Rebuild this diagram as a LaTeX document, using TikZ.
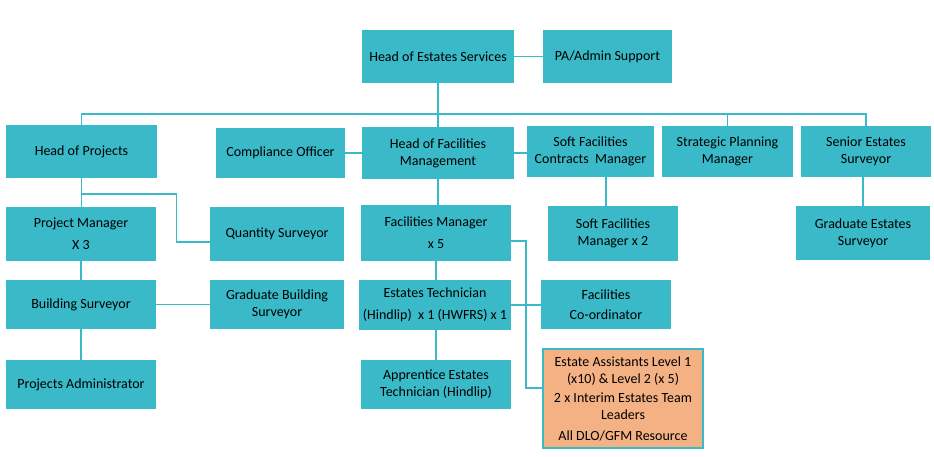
\documentclass[tikz,border=0pt]{standalone}
\usepackage{fontspec}
\setmainfont{Carlito}
\usetikzlibrary{calc}
\definecolor{estteal}{HTML}{3ABAC8}
\definecolor{estorange}{HTML}{F4B183}

\begin{document}
\begin{tikzpicture}[x=1pt,y=-1pt,
    role/.style 2 args={fill=estteal, inner sep=0pt, align=center,
      minimum width=#1, minimum height=#2, text=black,
      font=\fontsize{14}{17}\selectfont},
    link/.style={draw=estteal, line width=1.6pt}]
\useasboundingbox (0,0) rectangle (934,456);
% top
\node[role={152}{53}] (hes) at (438,56.5) {Head of Estates Services};
\node[role={129}{53}] (pa) at (607.5,56.5) {PA/Admin Support};
\coordinate (rail) at (438,114);
% second row
\node[role={151}{53}] (hop) at (81.5,151.5) {Head of Projects};
\node[role={129}{50}] (co) at (280.5,153) {Compliance Officer};
\node[role={152}{52}] (hfm) at (438,153) {Head of Facilities\\Management};
\node[role={127}{51}] (sfcm) at (590.5,151.5) {Soft Facilities\\Contracts\ \ Manager};
\node[role={131}{51}] (spm) at (727.5,151.5) {Strategic Planning\\Manager};
\node[role={130}{51}] (ses) at (866,151.5) {Senior Estates\\Surveyor};
% third row
\node[role={150}{54}] (pm) at (81,234) {Project Manager\\[5pt]X 3};
\node[role={134}{54}] (qs) at (277,234) {Quantity Surveyor};
\node[role={150}{56}] (fm) at (436,233) {Facilities Manager\\[5pt]x 5};
\node[role={130}{55}] (sfm) at (613,233.5) {Soft Facilities\\Manager x 2};
\node[role={134}{54}] (ges) at (863,233) {Graduate Estates\\Surveyor};
% fourth row
\node[role={150}{49}] (bs) at (81,304.5) {Building Surveyor};
\node[role={134}{49}] (gbs) at (277,304.5) {Graduate Building\\Surveyor};
\node[role={152}{50}] (et) at (435,305) {Estates Technician\\[5pt](Hindlip)\ \ x 1 (HWFRS) x 1};
\node[role={130}{49}] (fc) at (606,304.5) {Facilities\\[3pt]Co-ordinator};
% bottom
\node[role={150}{49}] (pad) at (81,384.5) {Projects Administrator};
\node[role={150}{49}] (aet) at (436,384.5) {Apprentice Estates\\Technician (Hindlip)};
\node[role={160}{99}, fill=estorange, draw=estteal, line width=1.6pt] (ea) at (623,398.5)
  {Estate Assistants Level 1\\(x10) \& Level 2 (x 5)\\[2pt]2 x Interim Estates Team\\Leaders\\[4pt]All DLO/GFM Resource};
% connectors
\draw[link] (hes.east) -- (pa.west |- hes.east);
\draw[link] (hes.south) -- (rail);
\draw[link] (hop.north) |- (ses.north |- rail) -- (ses.north);
\draw[link] (hfm.north) -- (rail);
\draw[link] (spm.north) -- (spm.north |- rail);
\draw[link] (co.east) -- (hfm.west |- co.east);
\draw[link] (hfm.east) -- (sfcm.west |- hfm.east);
\draw[link] (sfcm.-59) -- (sfcm.-59 |- sfm.north);
\draw[link] (ses.south -| ges.north) -- (ges.north);
\draw[link] (hfm.south) -- (fm.north -| hfm.south);
\draw[link] (fm.south) -- (et.north -| fm.south);
\draw[link] (et.south -| aet.north) -- (aet.north);
\draw[link] (et.east) -- (fc.west |- et.east);
\draw[link] ([yshift=-8pt]fm.east) -- ++(15,0) |- ([yshift=10.5pt]ea.west);
% projects
\draw[link] (hop.south) -- (pm.north -| hop.south);
\draw[link] ($(hop.south)+(0,16)$) -- ++(95,0) |- ([yshift=-8pt]qs.west);
\draw[link] (pm.south) -- (bs.north);
\draw[link] (bs.south) -- (pad.north);
\draw[link] (bs.east) -- (gbs.west);
\end{tikzpicture}
\end{document}
